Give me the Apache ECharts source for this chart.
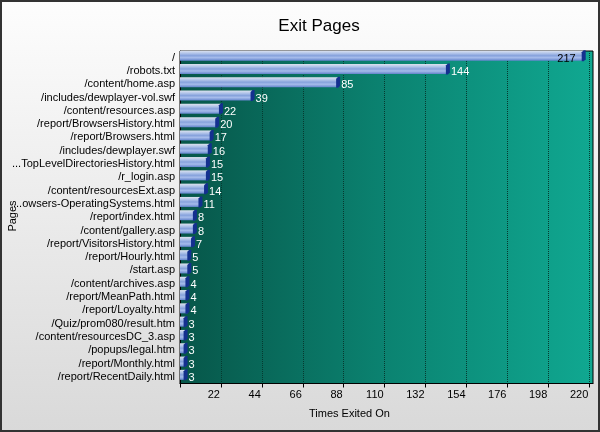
<!DOCTYPE html>
<html>
<head>
<meta charset="utf-8">
<script src="https://cdn.jsdelivr.net/npm/echarts@6/dist/echarts.min.js"></script>
<style>
html,body{margin:0;padding:0;background:#fff;}
#chart{width:600px;height:432px;}
</style>
</head>
<body>
<div id="chart"></div>
<script>
var titleText = 'Exit Pages';
var xAxisName = 'Times Exited On';
var yAxisName = 'Pages';
var categories = [
  '/', '/robots.txt', '/content/home.asp', '/includes/dewplayer-vol.swf',
  '/content/resources.asp', '/report/BrowsersHistory.html', '/report/Browsers.html',
  '/includes/dewplayer.swf', '...TopLevelDirectoriesHistory.html', '/r_login.asp',
  '/content/resourcesExt.asp', '...owsers-OperatingSystems.html', '/report/index.html',
  '/content/gallery.asp', '/report/VisitorsHistory.html', '/report/Hourly.html',
  '/start.asp', '/content/archives.asp', '/report/MeanPath.html', '/report/Loyalty.html',
  '/Quiz/prom080/result.htm', '/content/resourcesDC_3.asp', '/popups/legal.htm',
  '/report/Monthly.html', '/report/RecentDaily.html'
];
var values = [217, 144, 85, 39, 22, 20, 17, 16, 15, 15, 14, 11, 8, 8, 7, 5, 5, 4, 4, 4, 3, 3, 3, 3, 3];
var xTickValues = [0, 22, 44, 66, 88, 110, 132, 154, 176, 198, 220];
var xLabelValues = [22, 44, 66, 88, 110, 132, 154, 176, 198, 220];
var xMax = 222;

var FONT = '"Liberation Sans", Arial, sans-serif';
var chart = echarts.init(document.getElementById('chart'), null, {renderer: 'canvas'});

var barData = values.map(function (v, i) {
  if (i === 0) {
    return {value: v, label: {position: 'insideRight', color: '#000', distance: 8}};
  }
  return v;
});

var option = {
  animation: false,
  backgroundColor: {
    type: 'linear', x: 0, y: 0, x2: 0, y2: 1,
    colorStops: [{offset: 0, color: '#fdfdfd'}, {offset: 1, color: '#d9d9d9'}]
  },
  title: {
    text: titleText, left: 314, top: 13, textAlign: 'center',
    textStyle: {fontFamily: FONT, fontSize: 17, fontWeight: 'normal', color: '#000'}
  },
  grid: {
    left: 180, right: 7, top: 51, bottom: 48.5,
    containLabel: false,
    outerBoundsMode: 'none',
    show: true,
    borderColor: '#000', borderWidth: 1,
    backgroundColor: {
      type: 'linear', x: 0, y: 0, x2: 1, y2: 0,
      colorStops: [{offset: 0, color: '#075649'}, {offset: 0.5, color: '#0b8371'}, {offset: 1, color: '#10a891'}]
    }
  },
  xAxis: {
    type: 'value', min: 0, max: xMax, interval: 22,
    axisLine: {show: true, lineStyle: {color: '#000', width: 1}},
    axisTick: {show: true, length: 4, customValues: xTickValues, lineStyle: {color: '#000'}},
    axisLabel: {
      customValues: xLabelValues, margin: 6, hideOverlap: false,
      align: 'right', padding: [0, 1, 0, 0],
      fontFamily: FONT, fontSize: 11, color: '#000'
    },
    splitLine: {show: true, lineStyle: {color: '#063a30', type: 'dotted', width: 1}}
  },
  yAxis: {
    type: 'category', data: categories, inverse: true,
    axisLine: {show: true, lineStyle: {color: '#000'}},
    axisTick: {show: false},
    axisLabel: {interval: 0, margin: 5, hideOverlap: false, fontFamily: FONT, fontSize: 11, color: '#000'},
    splitLine: {show: false}
  },
  graphic: [
    {type: 'text', left: 309, top: 408,
     style: {text: xAxisName, font: '11px ' + FONT, fill: '#000'}},
    {type: 'text', x: 13, y: 216, rotation: Math.PI / 2,
     style: {text: yAxisName, font: '11px ' + FONT, fill: '#000', align: 'center', verticalAlign: 'middle'}},
    {type: 'rect', shape: {x: 1, y: 1, width: 598, height: 430},
     style: {fill: 'none', stroke: '#333', lineWidth: 2}, z: 100}
  ],
  series: [
    {
      type: 'pictorialBar',
      data: barData,
      symbol: 'rect',
      symbolSize: ['100%', 10],
      symbolOffset: [0, -2],
      symbolClip: false,
      itemStyle: {
        color: {
          type: 'linear', x: 0, y: 0, x2: 0, y2: 1,
          colorStops: [
            {offset: 0, color: '#dde3ee'},
            {offset: 0.25, color: '#b4c6ea'},
            {offset: 0.5, color: '#86a2dc'},
            {offset: 0.7, color: '#a6bceb'},
            {offset: 1, color: '#6484cc'}
          ]
        }
      },
      label: {
        show: true, position: 'right', distance: 3, offset: [0, 1],
        fontFamily: FONT, fontSize: 11, color: '#fff'
      },
      z: 3
    },
    {
      type: 'pictorialBar',
      data: values,
      symbol: 'path://M0,2 L2,0 L4,0 L4,9 L2,11 L0,11 Z',
      symbolSize: [4, 11],
      symbolPosition: 'end',
      symbolOffset: [2, -2],
      itemStyle: {color: '#14308f'},
      silent: true,
      z: 4
    }
  ]
};
chart.setOption(option);
</script>
</body>
</html>
